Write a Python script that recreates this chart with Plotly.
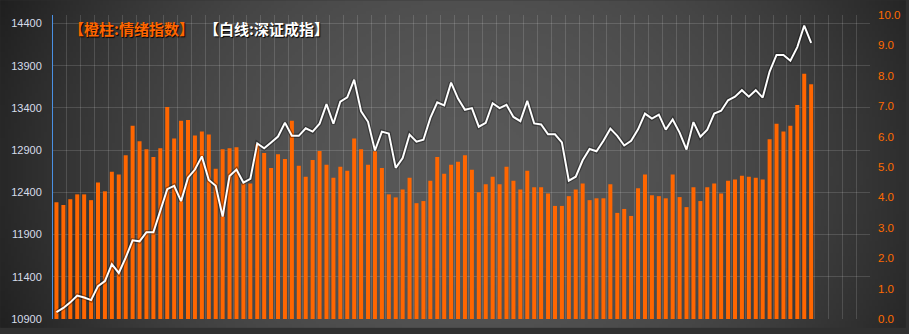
import base64
import struct
import zlib

import numpy as np
import plotly.graph_objects as go

# ---------------- data ----------------
emotion = [
    3.84, 3.75, 3.94, 4.10, 4.10, 3.91, 4.49, 4.20, 4.84, 4.75,
    5.39, 6.36, 5.85, 5.58, 5.33, 5.62, 6.97, 5.94, 6.52, 6.55,
    6.04, 6.17, 6.07, 4.94, 5.58, 5.62, 5.65, 4.46, 4.46, 5.75,
    5.46, 4.97, 5.42, 5.26, 6.52, 5.04, 4.68, 5.23, 5.53, 5.07,
    4.65, 5.01, 4.88, 5.94, 5.58, 5.07, 5.52, 4.97, 4.10, 4.00,
    4.26, 4.65, 3.81, 3.88, 4.55, 5.33, 4.78, 5.07, 5.17, 5.39,
    4.91, 4.17, 4.43, 4.68, 4.43, 5.01, 4.55, 4.26, 4.88, 4.33,
    4.33, 4.13, 3.72, 3.72, 4.04, 4.26, 4.46, 3.91, 3.97, 3.97,
    4.43, 3.49, 3.62, 3.39, 4.30, 4.75, 4.07, 4.04, 3.97, 4.75,
    4.01, 3.68, 4.33, 3.88, 4.33, 4.46, 4.13, 4.55, 4.59, 4.71,
    4.68, 4.65, 4.59, 5.91, 6.42, 6.17, 6.36, 7.04, 8.07, 7.72,
]
szci = [
    10981, 11031, 11097, 11178, 11155, 11124, 11290, 11348, 11550, 11445,
    11626, 11831, 11820, 11928, 11928, 12180, 12438, 12478, 12296, 12574,
    12670, 12826, 12547, 12478, 12113, 12594, 12670, 12516, 12560, 12980,
    12922, 12991, 13061, 13224, 13069, 13069, 13158, 13119, 13212, 13444,
    13212, 13475, 13525, 13734, 13359, 13235, 12895, 13119, 13096, 12690,
    12806, 13084, 13000, 13023, 13281, 13467, 13429, 13699, 13510, 13378,
    13397, 13177, 13224, 13455, 13397, 13436, 13293, 13243, 13483, 13216,
    13204, 13088, 13088, 12991, 12539, 12585, 12779, 12914, 12887, 13011,
    13154, 13069, 12955, 13011, 13146, 13332, 13274, 13320, 13142, 13262,
    13107, 12907, 13232, 13058, 13142, 13332, 13366, 13490, 13533, 13610,
    13533, 13610, 13522, 13830, 14027, 14027, 13958, 14120, 14375, 14171,
]
n_slots = 118  # category slots on the x axis (last ones empty)
days = list(range(len(emotion)))

left_ticks = list(range(10900, 14401, 500))
right_ticks = [float(i) for i in range(11)]
right_labels = [f"{v:.1f}" for v in right_ticks]

title_orange = "【橙柱:情绪指数】"
title_white = "【白线:深证成指】"

# ---------------- layout geometry ----------------
W, H = 909, 334
ML, MR, MT, MB = 53, 36, 15, 9
PW, PH = W - ML - MR, H - MT - MB


def background_uri():
    w, h = 303, 111
    xs = (np.arange(w) + 0.5) / w * W
    ys = (np.arange(h) + 0.5) / h * H
    X, Y = np.meshgrid(xs, ys)
    r2 = ((X - 470) / 480.0) ** 2 + ((Y - 175) / 420.0) ** 2
    c = np.clip(88 - 50 * r2, 24, 255).astype(np.uint8)
    rgb = np.repeat(c[:, :, None], 3, axis=2)
    raw = b"".join(b"\x00" + rgb[i].tobytes() for i in range(h))

    def chunk(t, d):
        return struct.pack(">I", len(d)) + t + d + struct.pack(">I", zlib.crc32(t + d) & 0xFFFFFFFF)

    png = (b"\x89PNG\r\n\x1a\n"
           + chunk(b"IHDR", struct.pack(">IIBBBBB", w, h, 8, 2, 0, 0, 0))
           + chunk(b"IDAT", zlib.compress(raw, 9))
           + chunk(b"IEND", b""))
    return "data:image/png;base64," + base64.b64encode(png).decode()


fig = go.Figure()

fig.add_trace(go.Bar(
    x=days, y=emotion, yaxis="y",
    marker=dict(color="#ff6600", line=dict(width=0)),
    hoverinfo="skip", showlegend=False,
))
fig.add_trace(go.Scatter(
    x=days, y=szci, yaxis="y2", mode="lines",
    line=dict(color="rgba(0,0,0,0.35)", width=4.5),
    hoverinfo="skip", showlegend=False,
))
fig.add_trace(go.Scatter(
    x=days, y=szci, yaxis="y2", mode="lines",
    line=dict(color="#ffffff", width=2),
    hoverinfo="skip", showlegend=False,
))

grid = "rgba(255,255,255,0.14)"

fig.update_layout(
    width=W, height=H,
    margin=dict(l=ML, r=MR, t=MT, b=MB, pad=0),
    paper_bgcolor="#303030",
    plot_bgcolor="rgba(0,0,0,0)",
    bargap=0.42,
    showlegend=False,
    font=dict(family="Liberation Sans, Arial, sans-serif"),
    xaxis=dict(
        range=[-0.5, n_slots - 0.5], tickmode="linear", tick0=-0.5, dtick=2,
        showgrid=True, gridcolor=grid, gridwidth=1,
        showticklabels=False, ticks="", zeroline=False, showline=False,
        fixedrange=True,
    ),
    yaxis=dict(
        side="right", range=[0, 10], tickmode="array",
        tickvals=right_ticks, ticktext=right_labels,
        showgrid=False, zeroline=False, showline=False, ticks="",
        tickfont=dict(color="#ff6a00", size=11.5, family="Liberation Sans, Arial, sans-serif"),
        ticklabelstandoff=7,
    ),
    yaxis2=dict(
        overlaying="y", side="left", range=[10900, 14500], tickmode="array",
        tickvals=left_ticks, ticktext=[str(v) for v in left_ticks],
        showgrid=True, gridcolor=grid, gridwidth=1, zeroline=False,
        showline=True, linecolor="#4a90e2", linewidth=1, ticks="",
        tickfont=dict(color="#d6dcea", size=11, family="Liberation Sans, Arial, sans-serif"),
        ticklabelstandoff=8,
    ),
    images=[dict(
        source=background_uri(), xref="paper", yref="paper",
        x=-ML / PW, y=1 + MT / PH, sizex=W / PW, sizey=H / PH,
        xanchor="left", yanchor="top", sizing="stretch", layer="below",
    )],
    annotations=[
        dict(
            text="<b>" + title_orange + "</b>", xref="paper", yref="paper",
            x=(67 - ML) / PW, y=(H - MB - 28.5) / PH, xanchor="left", yanchor="middle",
            showarrow=False,
            font=dict(family="Noto Sans CJK SC", size=15, color="#ff6600",
                      shadow="1px 1px 1px #000000"),
        ),
        dict(
            text="<b>" + title_white + "</b>", xref="paper", yref="paper",
            x=(203 - ML) / PW, y=(H - MB - 28.5) / PH, xanchor="left", yanchor="middle",
            showarrow=False,
            font=dict(family="Noto Sans CJK SC", size=15, color="#ffffff",
                      shadow="1px 1px 1px #000000"),
        ),
    ],
)

fig.write_html("out.html")
